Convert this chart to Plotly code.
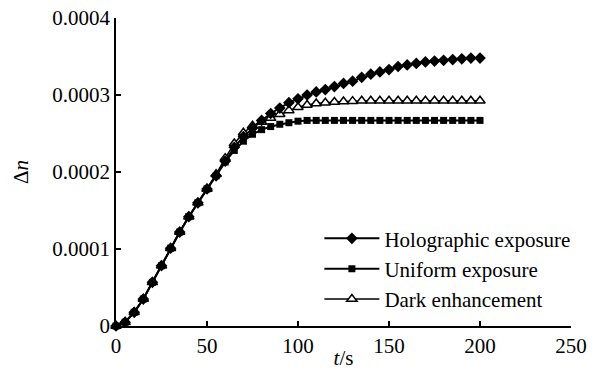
import plotly.graph_objects as go

# time axis (s)
t = [0, 5, 10, 15, 20, 25, 30, 35, 40, 45, 50, 55, 60, 65, 70, 75, 80, 85, 90, 95, 100,
     105, 110, 115, 120, 125, 130, 135, 140, 145, 150, 155, 160, 165, 170, 175, 180,
     185, 190, 195, 200]

holographic = [0, 0.000005, 0.0000178, 0.000035, 0.0000567, 0.0000783, 0.000101, 0.000122,
               0.000142, 0.00016, 0.000178, 0.000195, 0.000214, 0.000232, 0.000246, 0.000257,
               0.000267, 0.000276, 0.000283, 0.00029, 0.000295, 0.0003, 0.000304, 0.000307,
               0.000311, 0.000315, 0.000318, 0.000323, 0.000327, 0.00033, 0.000333, 0.000337,
               0.000339, 0.000341, 0.000343, 0.000344, 0.000345, 0.000346, 0.000347, 0.000348,
               0.000348]

uniform = [0, 0.000005, 0.0000178, 0.000035, 0.0000567, 0.0000783, 0.000101, 0.000122,
           0.000142, 0.00016, 0.000178, 0.000195, 0.000213, 0.000228, 0.00024, 0.000249,
           0.000255, 0.000259, 0.000262, 0.000264, 0.000266, 0.000267, 0.000267, 0.000267,
           0.000267, 0.000267, 0.000267, 0.000267, 0.000267, 0.000267, 0.000267, 0.000267,
           0.000267, 0.000267, 0.000267, 0.000267, 0.000267, 0.000267, 0.000267, 0.000267,
           0.000267]

dark = [0, 0.000005, 0.0000178, 0.000035, 0.0000567, 0.0000783, 0.000101, 0.000122,
        0.000142, 0.00016, 0.000178, 0.000197, 0.000218, 0.000237, 0.000251, 0.00026,
        0.000265, 0.00027, 0.000275, 0.00028, 0.000284, 0.000287, 0.000289, 0.00029,
        0.000291, 0.0002915, 0.000292, 0.0002925, 0.0002925, 0.0002925, 0.0002925, 0.0002925,
        0.0002925, 0.0002925, 0.0002925, 0.0002925, 0.0002925, 0.0002925, 0.0002925, 0.0002925,
        0.0002925]

x_ticks = [0, 50, 100, 150, 200, 250]
y_ticks = [0, 0.0001, 0.0002, 0.0003, 0.0004]
y_tick_labels = ["0", "0.0001", "0.0002", "0.0003", "0.0004"]

FONT = "Liberation Serif"
F21 = dict(family=FONT, size=21, color="black")

fig = go.Figure()

fig.add_trace(go.Scatter(
    x=t, y=uniform, name="Uniform exposure", mode="lines+markers",
    line=dict(color="black", width=2),
    marker=dict(symbol="square", size=7, color="black"),
    legendrank=2, cliponaxis=False))

fig.add_trace(go.Scatter(
    x=t, y=dark, name="Dark enhancement", mode="lines+markers",
    line=dict(color="black", width=1.5),
    marker=dict(symbol="triangle-up", size=9, color="white",
                line=dict(color="black", width=1.5)),
    legendrank=3, cliponaxis=False))

fig.add_trace(go.Scatter(
    x=t, y=holographic, name="Holographic exposure", mode="lines+markers",
    line=dict(color="black", width=2),
    marker=dict(symbol="diamond", size=9, color="black"),
    legendrank=1, cliponaxis=False))

fig.update_layout(
    width=606, height=370,
    margin=dict(l=116, r=35, t=18, b=44),
    paper_bgcolor="white", plot_bgcolor="white",
    showlegend=True,
    legend=dict(x=0.447, y=0.35, xanchor="left", yanchor="top",
                bgcolor="rgba(0,0,0,0)", itemwidth=55,
                font=F21, tracegroupgap=0),
)

fig.update_xaxes(
    range=[0, 250], tickvals=x_ticks, showgrid=False, zeroline=False, automargin=False,
    showline=True, linecolor="black", linewidth=1.5,
    ticks="inside", ticklen=5, tickwidth=1.5, tickcolor="black",
    tickfont=F21,
    title=dict(text="<i>t</i>/s", standoff=5, font=F21),
)
fig.update_yaxes(
    range=[0, 0.0004], tickvals=y_ticks, ticktext=y_tick_labels,
    showgrid=False, zeroline=False, automargin=False,
    showline=True, linecolor="black", linewidth=1.5,
    ticks="inside", ticklen=5, tickwidth=1.5, tickcolor="black",
    tickfont=F21,
    title=dict(text="Δ<i>n</i>", standoff=18, font=F21),
)

fig.write_html("out.html",
               config={"displayModeBar": False},
               post_script="document.body.style.margin='0px';document.body.style.padding='0px';")
